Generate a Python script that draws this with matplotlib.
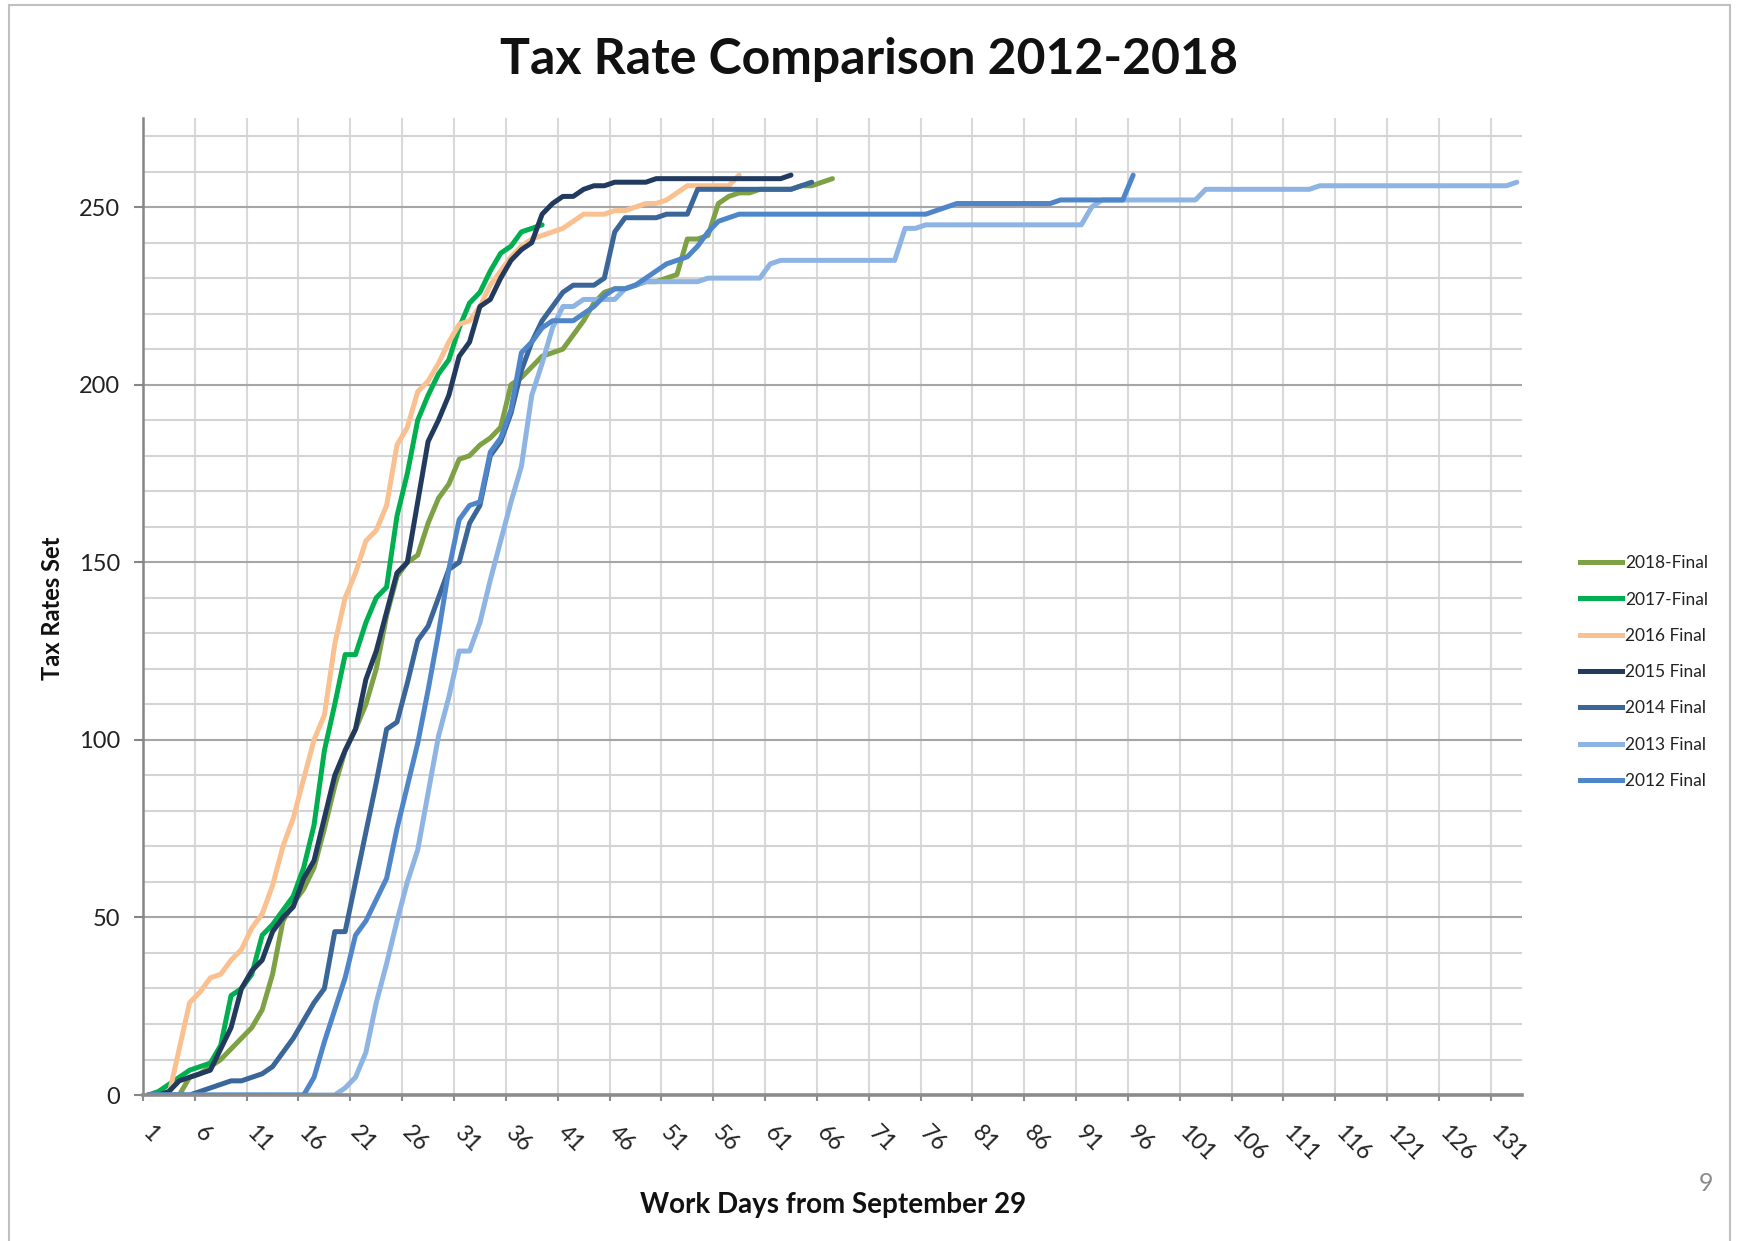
#!/usr/bin/env python3

import matplotlib
matplotlib.use("Agg")
import matplotlib.pyplot as plt
from matplotlib.lines import Line2D
from matplotlib.patches import Rectangle
from matplotlib.transforms import ScaledTranslation

plt.rcParams['font.family'] = ['Lato', 'DejaVu Sans']

# Cumulative tax rates set, by work day
days_2018 = list(range(1, 68))
vals_2018 = [0, 0, 0, 0, 5, 6, 8, 10, 13, 16,
             19, 24, 34, 49, 54, 58, 64, 75, 87, 97,
             103, 110, 120, 135, 146, 150, 152, 161, 168, 172,
             179, 180, 183, 185, 188, 200, 202, 205, 208, 209,
             210, 214, 218, 223, 226, 227, 227, 228, 229, 229,
             230, 231, 241, 241, 242, 251, 253, 254, 254, 255,
             255, 255, 255, 256, 256, 257, 258]

days_2017 = list(range(1, 40))
vals_2017 = [0, 1, 3, 5, 7, 8, 9, 14, 28, 30,
             34, 45, 48, 52, 56, 64, 76, 97, 110, 124,
             124, 133, 140, 143, 163, 175, 190, 197, 203, 207,
             216, 223, 226, 232, 237, 239, 243, 244, 245]

days_2016 = list(range(1, 59))
vals_2016 = [0, 0, 0, 13, 26, 29, 33, 34, 38, 41,
             47, 51, 59, 70, 78, 89, 100, 107, 127, 140,
             147, 156, 159, 166, 183, 188, 198, 201, 206, 212,
             217, 218, 222, 228, 232, 236, 239, 241, 242, 243,
             244, 246, 248, 248, 248, 249, 249, 250, 251, 251,
             252, 254, 256, 256, 256, 256, 256, 259]

days_2015 = list(range(1, 64))
vals_2015 = [0, 0, 1, 4, 5, 6, 7, 13, 19, 30,
             35, 38, 46, 50, 53, 61, 66, 78, 90, 97,
             103, 117, 125, 136, 147, 150, 167, 184, 190, 197,
             208, 212, 222, 224, 230, 235, 238, 240, 248, 251,
             253, 253, 255, 256, 256, 257, 257, 257, 257, 258,
             258, 258, 258, 258, 258, 258, 258, 258, 258, 258,
             258, 258, 259]

days_2014 = list(range(1, 66))
vals_2014 = [0, 0, 0, 0, 0, 1, 2, 3, 4, 4,
             5, 6, 8, 12, 16, 21, 26, 30, 46, 46,
             60, 74, 88, 103, 105, 116, 128, 132, 140, 148,
             150, 161, 166, 180, 184, 192, 204, 212, 218, 222,
             226, 228, 228, 228, 230, 243, 247, 247, 247, 247,
             248, 248, 248, 255, 255, 255, 255, 255, 255, 255,
             255, 255, 255, 256, 257]

# long flat stretches are given only by their end days
days_2013 = [1] + list(range(19, 63)) + [73, 74, 75, 76, 91, 92, 93,
                                         102, 103, 113, 114, 132, 133]
vals_2013 = [0, 0, 2, 5, 12, 26, 37, 49, 60, 69, 85,
             101, 112, 125, 125, 133, 145, 156, 167, 177, 197,
             206, 216, 222, 222, 224, 224, 224, 224, 227, 228,
             229, 229, 229, 229, 229, 229, 230, 230, 230, 230,
             230, 230, 234, 235,
             235, 244, 244, 245, 245, 250, 252,
             252, 255, 255, 256, 256, 257]

days_2012 = [1] + list(range(16, 60)) + [76, 77, 78, 79, 88, 89, 95, 96]
vals_2012 = [0, 0, 5, 15, 24, 33, 45, 49, 55, 61, 75,
             87, 99, 114, 130, 148, 162, 166, 167, 181, 185,
             193, 209, 212, 216, 218, 218, 218, 220, 222, 225,
             227, 227, 228, 230, 232, 234, 235, 236, 239, 243,
             246, 247, 248, 248,
             248, 249, 250, 251, 251, 252, 252, 259]

labels = ["2018-Final", "2017-Final", "2016 Final", "2015 Final",
          "2014 Final", "2013 Final", "2012 Final"]
colors = ["#7DA144", "#00B050", "#FAC08F", "#223A5E",
          "#3A6699", "#8DB4E2", "#4F86C9"]
series = [(days_2018, vals_2018), (days_2017, vals_2017),
          (days_2016, vals_2016), (days_2015, vals_2015),
          (days_2014, vals_2014), (days_2013, vals_2013),
          (days_2012, vals_2012)]

fig = plt.figure(figsize=(17.39, 12.41), dpi=100)
ax = fig.add_axes([0.0822, 0.1176, 0.7930, 0.7871])

for (d, v), c in zip(series, colors):
    ax.plot(d, v, color=c, lw=3.6, solid_joinstyle="round",
            solid_capstyle="round")

# Axes and grid
ax.set_xlim(0.5, 133.5)
ax.set_ylim(0, 275)
ax.set_yticks(range(0, 251, 50))
ax.set_yticks(range(0, 271, 10), minor=True)
ax.set_xticks(range(1, 132, 5))
ax.set_xticks([x + 0.5 for x in range(0, 131, 5)], minor=True)
ax.grid(axis="y", which="major", color="#A6A6A6", lw=1.5)
ax.grid(axis="y", which="minor", color="#D4D4D4", lw=1.5)
ax.grid(axis="x", which="minor", color="#D9D9D9", lw=1.5)
ax.set_axisbelow(True)

for side in ["top", "right"]:
    ax.spines[side].set_visible(False)
ax.spines["left"].set_color("#868686")
ax.spines["left"].set_linewidth(1.8)
ax.spines["bottom"].set_color("#8C8C8C")
ax.spines["bottom"].set_linewidth(2.6)

ax.tick_params(axis="y", which="major", length=6.5, width=1.5,
               color="#868686", labelsize=17, pad=10, labelcolor="#222222")
ax.tick_params(axis="y", which="minor", length=0)
ax.tick_params(axis="x", which="minor", length=4.5, width=1.5,
               color="#8C8C8C")
ax.tick_params(axis="x", which="major", length=0, labelsize=16.5,
               pad=25, labelcolor="#222222")
for lab in ax.get_xticklabels():
    lab.set_rotation(-45)
    lab.set_rotation_mode("anchor")
    lab.set_ha("left")
    lab.set_va("center")
    lab.set_transform(lab.get_transform() +
                      ScaledTranslation(-0.02, 0, fig.dpi_scale_trans))

# Texts
fig.text(0.500, 0.952, "Tax Rate Comparison 2012-2018", ha="center",
         va="center", fontsize=36, fontweight="bold", color="#111111")
fig.text(0.030, 0.510, "Tax Rates Set", rotation=90, ha="center",
         va="center", fontsize=17, fontweight="bold", color="#111111")
fig.text(0.479, 0.029, "Work Days from September 29", ha="center",
         va="center", fontsize=20, fontweight="bold", color="#111111")
fig.text(0.981, 0.046, "9", ha="center", va="center", fontsize=18,
         color="#8C8C8C")

# Legend
handles = [Line2D([], [], color=c, lw=3.6) for c in colors]
fig.legend(handles, labels, loc="upper left",
           bbox_to_anchor=(0.9086, 0.5526), frameon=False, fontsize=12.5,
           handlelength=2.4, handletextpad=0.2, labelspacing=1.17,
           borderpad=0, borderaxespad=0, labelcolor="#222222")

# Slide frame
fig.patches.append(Rectangle((0.0052, -0.01), 0.9896, 1.0056,
                             transform=fig.transFigure, fill=False,
                             edgecolor="#C0C0C0", lw=1.5))

fig.savefig("out.png", dpi=100)
